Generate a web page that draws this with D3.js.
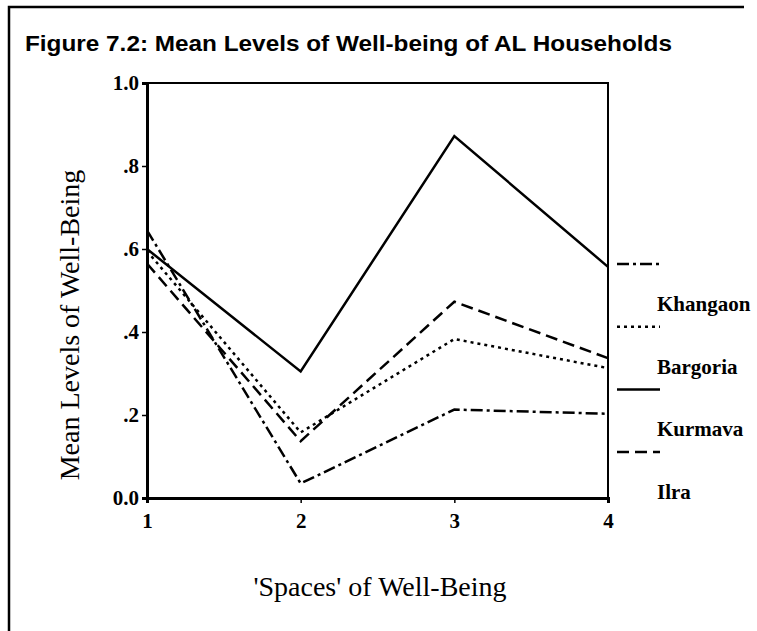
<!DOCTYPE html>
<html>
<head>
<meta charset="utf-8">
<script src="https://cdn.jsdelivr.net/npm/d3@7"></script>
<style>
  body { margin: 0; background: white; }
</style>
</head>
<body>
<div id="chart"></div>
<script>
// data
var spaces = [1, 2, 3, 4];
var yTicks = [0, 0.2, 0.4, 0.6, 0.8, 1.0];
var seriesNames = ["Khangaon", "Bargoria", "Kurmava", "Ilra"];
var khangaon = [0.645, 0.035, 0.213, 0.203];
var bargoria = [0.595, 0.158, 0.383, 0.313];
var kurmava = [0.60, 0.305, 0.872, 0.557];
var ilra = [0.565, 0.137, 0.473, 0.337];

var dashes = {
    Khangaon: "12,4,3,4",
    Bargoria: "3,4",
    Kurmava: null,
    Ilra: "12,6"
};

var W = 757, H = 631;
var plot = { left: 147, right: 608, top: 83, bottom: 498 };

var svg = d3.select("#chart").append("svg")
    .attr("width", W)
    .attr("height", H);

// outer frame (only top and left edges survive in the scan)
svg.append("path")
    .attr("d", "M9,631 L9,7 L744,7")
    .attr("fill", "none")
    .attr("stroke", "black")
    .attr("stroke-width", 2.5);

svg.append("text")
    .attr("x", 25)
    .attr("y", 51)
    .attr("font-family", "Liberation Sans, Arial, sans-serif")
    .attr("font-weight", "bold")
    .attr("font-size", 22)
    .attr("textLength", 647)
    .attr("lengthAdjust", "spacingAndGlyphs")
    .text("Figure 7.2: Mean Levels of Well-being of AL Households");

var x = d3.scaleLinear().domain([1, 4]).range([plot.left, plot.right]);
var y = d3.scaleLinear().domain([0, 1]).range([plot.bottom, plot.top]);

// plot box
svg.append("rect")
    .attr("x", plot.left)
    .attr("y", plot.top)
    .attr("width", plot.right - plot.left)
    .attr("height", plot.bottom - plot.top)
    .attr("fill", "none")
    .attr("stroke", "black")
    .attr("stroke-width", 2);

var fmtY = d => (d === 0 ? "0.0" : d === 1 ? "1.0" : d3.format(".1f")(d).replace("0.", "."));

var yAxis = svg.append("g")
    .attr("transform", `translate(${plot.left},0)`)
    .call(d3.axisLeft(y).tickValues(yTicks).tickFormat(fmtY).tickSize(5).tickPadding(3));

var xAxis = svg.append("g")
    .attr("transform", `translate(0,${plot.bottom})`)
    .call(d3.axisBottom(x).tickValues(spaces).tickFormat(d3.format("d")).tickSize(5).tickPadding(10));

[yAxis, xAxis].forEach(function(g) {
    g.select(".domain").attr("stroke-width", 3);
    g.selectAll(".tick line").attr("stroke-width", 1.5);
    g.selectAll("text")
        .attr("font-family", "Liberation Serif, Times New Roman, serif")
        .attr("font-weight", "bold")
        .attr("font-size", 21)
        .attr("fill", "black");
});

// lines
var line = d3.line()
    .x((d, i) => x(spaces[i]))
    .y(d => y(d));

var allSeries = [khangaon, bargoria, kurmava, ilra];

svg.selectAll("path.series")
    .data(allSeries)
    .enter()
    .append("path")
    .attr("class", "series")
    .attr("d", line)
    .attr("fill", "none")
    .attr("stroke", "black")
    .attr("stroke-width", 2.5)
    .attr("stroke-dasharray", (d, i) => dashes[seriesNames[i]]);

// legend: sample line above each name
var legend = svg.selectAll("g.legend")
    .data(seriesNames)
    .enter()
    .append("g")
    .attr("class", "legend")
    .attr("transform", (d, i) => `translate(617,${264 + i * 62.7})`);

legend.append("line")
    .attr("x1", 0)
    .attr("x2", 43)
    .attr("y1", 0)
    .attr("y2", 0)
    .attr("stroke", "black")
    .attr("stroke-width", 2.5)
    .attr("stroke-dasharray", d => dashes[d]);

legend.append("text")
    .attr("x", 40)
    .attr("y", 47)
    .attr("font-family", "Liberation Serif, Times New Roman, serif")
    .attr("font-weight", "bold")
    .attr("font-size", 21)
    .text(d => d);

// axis titles
svg.append("text")
    .attr("transform", "translate(79,325) rotate(-90)")
    .attr("text-anchor", "middle")
    .attr("font-family", "Liberation Serif, Times New Roman, serif")
    .attr("font-size", 28)
    .text("Mean Levels of Well-Being");

svg.append("text")
    .attr("x", 380)
    .attr("y", 596)
    .attr("text-anchor", "middle")
    .attr("font-family", "Liberation Serif, Times New Roman, serif")
    .attr("font-size", 28)
    .text("'Spaces' of Well-Being");
</script>
</body>
</html>
